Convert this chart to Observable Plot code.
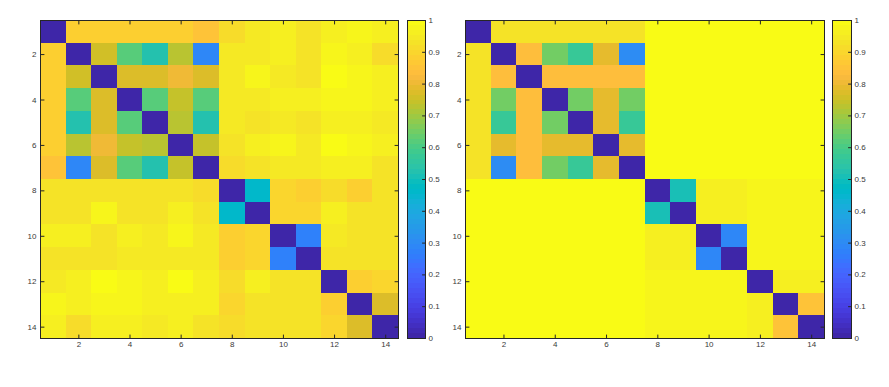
<!DOCTYPE html>
<html>
<head>
<meta charset="utf-8">
<script src="https://cdn.jsdelivr.net/npm/d3@7"></script>
<script src="https://cdn.jsdelivr.net/npm/@observablehq/plot@0.6"></script>
<style>
  html, body { margin: 0; padding: 0; background: #fff; }
  #chart { position: relative; width: 889px; height: 387px; background: #fff; overflow: hidden; }
  #chart svg { position: absolute; left: 0; top: 0; }
</style>
</head>
<body>
<div id="chart"></div>
<script>
// ---- data ----
const xTicks = [2, 4, 6, 8, 10, 12, 14];
const yTicks = [2, 4, 6, 8, 10, 12, 14];
const colorbarTicks = [0, 0.1, 0.2, 0.3, 0.4, 0.5, 0.6, 0.7, 0.8, 0.9, 1];
const colorbarTickLabels = ["0", "0.1", "0.2", "0.3", "0.4", "0.5", "0.6", "0.7", "0.8", "0.9", "1"];

const leftMatrix = [
  [0,     0.875, 0.875, 0.875, 0.875, 0.875, 0.845, 0.92,  0.94,  0.955, 0.93,  0.955, 0.975, 0.96 ],
  [0.875, 0,     0.76,  0.61,  0.52,  0.73,  0.29,  0.94,  0.94,  0.955, 0.93,  0.97,  0.955, 0.91 ],
  [0.875, 0.76,  0,     0.78,  0.78,  0.80,  0.78,  0.94,  0.98,  0.94,  0.935, 0.995, 0.975, 0.965],
  [0.875, 0.61,  0.78,  0,     0.61,  0.745, 0.61,  0.94,  0.94,  0.96,  0.96,  0.97,  0.97,  0.965],
  [0.875, 0.52,  0.78,  0.61,  0,     0.73,  0.52,  0.94,  0.93,  0.94,  0.935, 0.955, 0.955, 0.95 ],
  [0.875, 0.73,  0.80,  0.745, 0.73,  0,     0.745, 0.935, 0.965, 0.975, 0.94,  0.995, 0.975, 0.965],
  [0.845, 0.29,  0.78,  0.61,  0.52,  0.745, 0,     0.915, 0.93,  0.94,  0.94,  0.955, 0.955, 0.93 ],
  [0.925, 0.935, 0.935, 0.935, 0.93,  0.93,  0.92,  0,     0.46,  0.90,  0.875, 0.915, 0.89,  0.925],
  [0.935, 0.935, 0.975, 0.935, 0.925, 0.955, 0.93,  0.46,  0,     0.90,  0.90,  0.955, 0.935, 0.935],
  [0.955, 0.955, 0.93,  0.955, 0.945, 0.975, 0.94,  0.89,  0.895, 0,     0.27,  0.94,  0.935, 0.935],
  [0.93,  0.93,  0.93,  0.945, 0.94,  0.94,  0.94,  0.875, 0.895, 0.27,  0,     0.935, 0.935, 0.93 ],
  [0.94,  0.965, 0.99,  0.975, 0.96,  0.995, 0.96,  0.915, 0.955, 0.935, 0.935, 0,     0.875, 0.895],
  [0.975, 0.955, 0.975, 0.975, 0.965, 0.965, 0.965, 0.895, 0.93,  0.93,  0.93,  0.875, 0,     0.78 ],
  [0.955, 0.915, 0.965, 0.96,  0.945, 0.96,  0.93,  0.915, 0.93,  0.935, 0.925, 0.90,  0.78,  0    ]
];

const rightMatrix = [
  [0,     0.925, 0.925, 0.925, 0.925, 0.925, 0.925, 1,     1,     1,     1,     1,     1,     1    ],
  [0.925, 0,     0.83,  0.65,  0.575, 0.79,  0.31,  1,     1,     1,     1,     1,     1,     1    ],
  [0.925, 0.83,  0,     0.83,  0.83,  0.83,  0.83,  1,     1,     1,     1,     1,     1,     1    ],
  [0.925, 0.65,  0.83,  0,     0.65,  0.79,  0.65,  1,     1,     1,     1,     1,     1,     1    ],
  [0.925, 0.575, 0.83,  0.65,  0,     0.79,  0.575, 1,     1,     1,     1,     1,     1,     1    ],
  [0.925, 0.79,  0.83,  0.79,  0.79,  0,     0.79,  1,     1,     1,     1,     1,     1,     1    ],
  [0.925, 0.31,  0.83,  0.65,  0.575, 0.79,  0,     1,     1,     1,     1,     1,     1,     1    ],
  [1,     1,     1,     1,     1,     1,     1,     0,     0.51,  0.96,  0.96,  0.975, 0.975, 0.975],
  [1,     1,     1,     1,     1,     1,     1,     0.51,  0,     0.96,  0.96,  0.975, 0.975, 0.975],
  [1,     1,     1,     1,     1,     1,     1,     0.96,  0.96,  0,     0.29,  0.975, 0.975, 0.975],
  [1,     1,     1,     1,     1,     1,     1,     0.96,  0.96,  0.29,  0,     0.975, 0.975, 0.975],
  [1,     1,     1,     1,     1,     1,     1,     0.98,  0.98,  0.98,  0.98,  0,     0.96,  0.96 ],
  [1,     1,     1,     1,     1,     1,     1,     0.98,  0.98,  0.98,  0.98,  0.965, 0,     0.845],
  [1,     1,     1,     1,     1,     1,     1,     0.98,  0.98,  0.98,  0.98,  0.965, 0.845, 0    ]
];

// ---- colormap (MATLAB parula, 64 entries) ----
const parulaTable = [
  [0.2422,0.1504,0.6603],[0.2504,0.1650,0.7076],[0.2578,0.1818,0.7511],[0.2647,0.1978,0.7952],
  [0.2706,0.2147,0.8364],[0.2751,0.2342,0.8710],[0.2783,0.2559,0.8991],[0.2803,0.2782,0.9221],
  [0.2813,0.3006,0.9414],[0.2810,0.3228,0.9579],[0.2795,0.3447,0.9717],[0.2760,0.3667,0.9829],
  [0.2699,0.3892,0.9906],[0.2602,0.4123,0.9952],[0.2440,0.4358,0.9988],[0.2206,0.4603,0.9973],
  [0.1963,0.4847,0.9892],[0.1834,0.5074,0.9798],[0.1786,0.5289,0.9682],[0.1764,0.5499,0.9520],
  [0.1687,0.5703,0.9359],[0.1540,0.5902,0.9218],[0.1460,0.6091,0.9079],[0.1380,0.6276,0.8973],
  [0.1248,0.6459,0.8883],[0.1113,0.6635,0.8763],[0.0952,0.6798,0.8598],[0.0689,0.6948,0.8394],
  [0.0297,0.7082,0.8163],[0.0036,0.7203,0.7917],[0.0067,0.7312,0.7660],[0.0433,0.7411,0.7394],
  [0.0964,0.7500,0.7120],[0.1408,0.7584,0.6842],[0.1717,0.7670,0.6554],[0.1938,0.7758,0.6251],
  [0.2161,0.7843,0.5923],[0.2470,0.7918,0.5567],[0.2906,0.7973,0.5188],[0.3406,0.8008,0.4789],
  [0.3909,0.8029,0.4354],[0.4456,0.8024,0.3909],[0.5044,0.7993,0.3480],[0.5616,0.7942,0.3045],
  [0.6174,0.7876,0.2612],[0.6720,0.7793,0.2227],[0.7242,0.7698,0.1910],[0.7738,0.7598,0.1646],
  [0.8203,0.7498,0.1535],[0.8634,0.7406,0.1596],[0.9035,0.7330,0.1774],[0.9393,0.7288,0.2100],
  [0.9728,0.7298,0.2394],[0.9956,0.7434,0.2371],[0.9970,0.7659,0.2199],[0.9952,0.7893,0.2028],
  [0.9892,0.8136,0.1885],[0.9786,0.8386,0.1766],[0.9676,0.8639,0.1643],[0.9610,0.8890,0.1537],
  [0.9597,0.9135,0.1423],[0.9628,0.9373,0.1265],[0.9691,0.9606,0.1064],[0.9769,0.9839,0.0805]
];
const parulaColors = parulaTable.map(([r, g, b]) => d3.rgb(r * 255, g * 255, b * 255).formatHex());
const parula = (t) => parulaColors[Math.max(0, Math.min(63, Math.floor(t * 64)))];
const colorbarLevels = d3.range(64);

// ---- layout / style ----
const W = 889, H = 387;
const FONT = "'Liberation Sans', Arial, Helvetica, sans-serif";
const AXIS = "#262626";
const LABEL = "#3a3a3a";
const TICK_LEN = 3.5;
const tickShape = { draw(context, l) { context.moveTo(0, 0); context.lineTo(0, -l); } };

function inwardTicks(values, channel, frameAnchor, rotate, len) {
  return Plot.vector(values, {
    [channel]: (d) => d, frameAnchor, rotate, length: len, anchor: "start",
    shape: tickShape, stroke: AXIS, strokeWidth: 1
  });
}

function heatmap(matrix, mL, mR) {
  const cells = [];
  matrix.forEach((row, i) => row.forEach((v, j) => cells.push({ r: i + 1, c: j + 1, v })));
  return Plot.plot({
    width: W, height: H,
    marginLeft: mL, marginRight: mR, marginTop: 20, marginBottom: 49,
    style: { background: "transparent", fontFamily: FONT, fontSize: "8px", color: AXIS },
    x: { domain: [0.5, 14.5], axis: null },
    y: { domain: [0.5, 14.5], reverse: true, axis: null },
    color: { type: "linear", domain: [0, 1], interpolate: parula },
    marks: [
      Plot.rect(cells, {
        x1: (d) => d.c - 0.5, x2: (d) => d.c + 0.5,
        y1: (d) => d.r - 0.5, y2: (d) => d.r + 0.5,
        fill: "v", shapeRendering: "crispEdges"
      }),
      Plot.frame({ stroke: AXIS, strokeWidth: 1 }),
      inwardTicks(xTicks, "x", "bottom", 0, TICK_LEN),
      inwardTicks(xTicks, "x", "top", 180, TICK_LEN),
      inwardTicks(yTicks, "y", "left", 90, TICK_LEN),
      inwardTicks(yTicks, "y", "right", -90, TICK_LEN),
      Plot.axisX(xTicks, { anchor: "bottom", tickSize: 0, tickPadding: 3, label: null, fill: LABEL }),
      Plot.axisY(yTicks, { anchor: "left", tickSize: 0, tickPadding: 4, label: null, fill: LABEL })
    ]
  });
}

function colorbar(mL, mR) {
  return Plot.plot({
    width: W, height: H,
    marginLeft: mL, marginRight: mR, marginTop: 20, marginBottom: 49,
    style: { background: "transparent", fontFamily: FONT, fontSize: "8px", color: AXIS },
    y: { domain: [0, 1], axis: null },
    color: { type: "linear", domain: [0, 1], interpolate: parula },
    marks: [
      Plot.rect(colorbarLevels, {
        y1: (d) => d / 64, y2: (d) => (d + 1) / 64, fill: (d) => (d + 0.5) / 64,
        shapeRendering: "crispEdges"
      }),
      Plot.frame({ stroke: AXIS, strokeWidth: 1 }),
      inwardTicks(colorbarTicks, "y", "right", -90, 3),
      Plot.axisY(colorbarTicks, {
        anchor: "right", tickSize: 0, tickPadding: 3, label: null, fill: LABEL,
        tickFormat: (d) => colorbarTickLabels[Math.round(d * 10)]
      })
    ]
  });
}

const chart = document.getElementById("chart");
chart.append(
  heatmap(leftMatrix, 40, W - 398),
  colorbar(407, W - 425),
  heatmap(rightMatrix, 465, W - 824),
  colorbar(832, W - 851)
);
</script>
</body>
</html>
